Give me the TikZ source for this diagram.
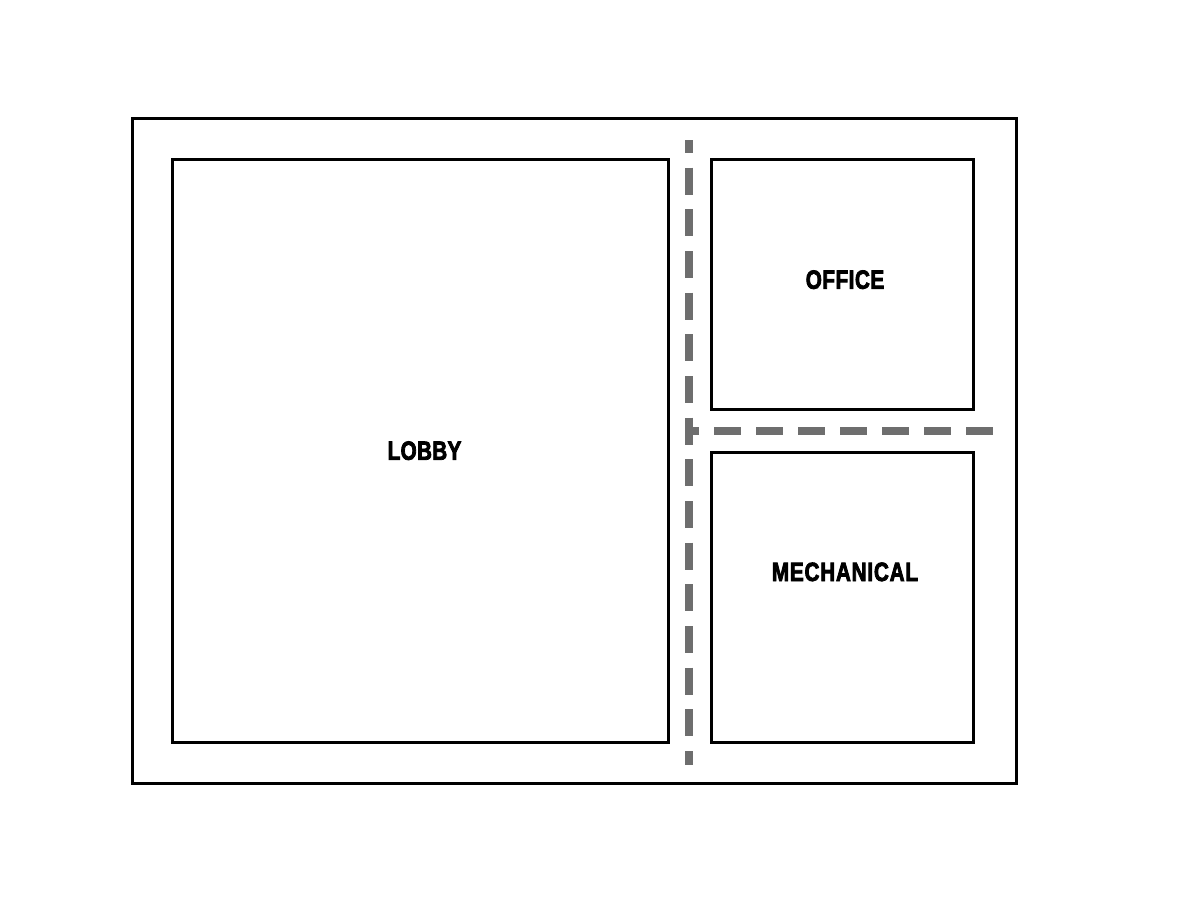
\documentclass[tikz,border=0pt]{standalone}
\usepackage{fontspec}
\newfontfamily\labfont[FakeStretch=0.78,FakeBold=3,LetterSpace=1.5]{Liberation Sans Bold}
\newfontfamily\labwidefont[FakeStretch=0.78,FakeBold=3,LetterSpace=3.2]{Liberation Sans Bold}
\newfontfamily\labmidfont[FakeStretch=0.78,FakeBold=3,LetterSpace=2.2]{Liberation Sans Bold}
\definecolor{corridorgray}{HTML}{6E6E6E}
\tikzset{
  wall/.style={draw=black,line width=2.25pt,fill=white},
  roomlabel/.style={font=\labfont\fontsize{19.8}{22}\selectfont,text=black,inner sep=0pt,anchor=base},
  corridor/.style={draw=corridorgray,line width=5.7pt}
}
\begin{document}
\begin{tikzpicture}[x=0.75pt,y=-0.75pt]
\useasboundingbox (0,0) rectangle (1186,907);
\fill[white] (0,0) rectangle (1186,907);
\draw[wall] (132.8,118.2) rectangle (1016.8,783.2);
\draw[wall] (172.8,159.2) rectangle (668.8,742.7);
\draw[wall] (711.8,159.2) rectangle (973.8,409.7);
\draw[wall] (711.8,452.7) rectangle (973.8,742.7);
\coordinate (vtop) at (689,140);
\coordinate (vbot) at (689,765);
\coordinate (hleft) at (689,430.7);
\coordinate (hright) at (993.5,430.7);
\draw[corridor,dash pattern=on 20.25pt off 11pt,dash phase=10.5pt] (vtop) -- (vbot);
\draw[corridor,dash pattern=on 20.25pt off 11.25pt,dash phase=12.75pt] (hleft) -- (hright);
\node[roomlabel] (lobby) at (424.5,459.8) {LOBBY};
\node[roomlabel,font=\labmidfont\fontsize{19.8}{22}\selectfont] (office) at (845,288.8) {OFFICE};
\node[roomlabel,font=\labwidefont\fontsize{19.8}{22}\selectfont] (mech) at (845,581) {MECHANICAL};
\end{tikzpicture}
\end{document}
